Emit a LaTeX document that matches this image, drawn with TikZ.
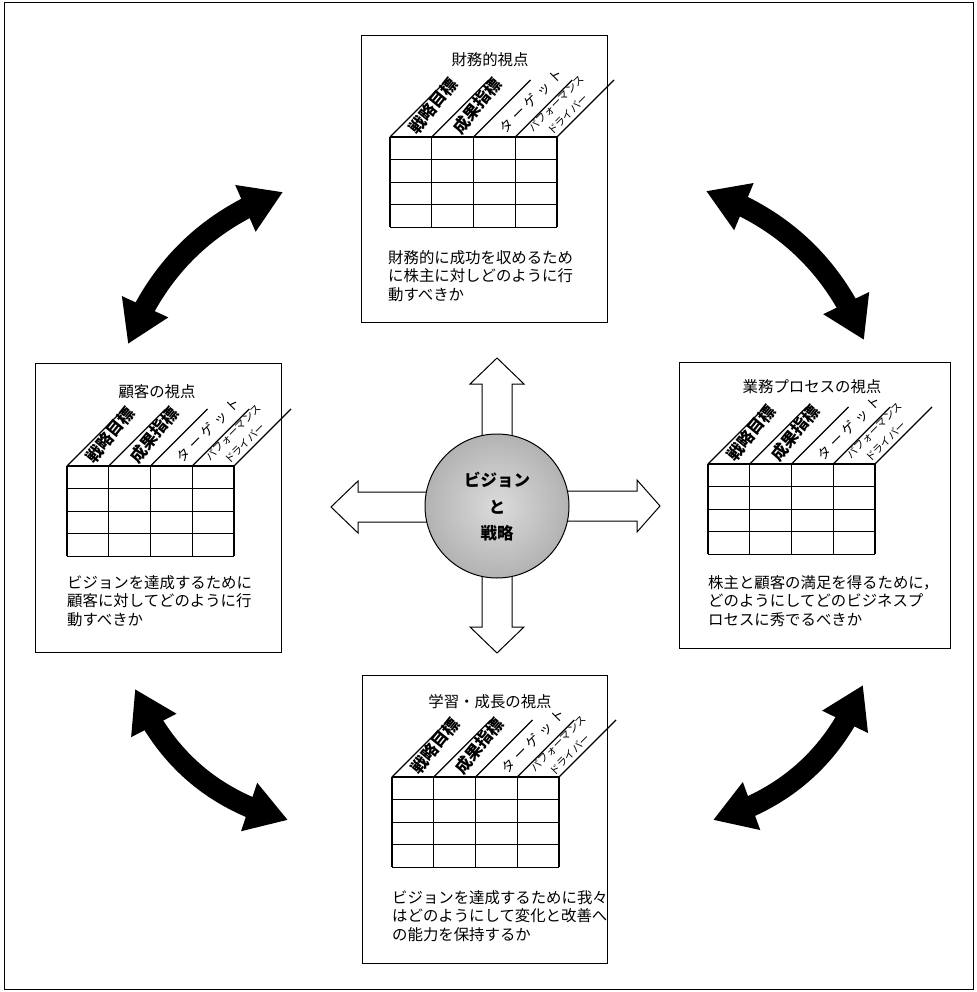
\documentclass[tikz,border=0pt]{standalone}
\usepackage{fontspec}
\setmainfont{Noto Sans CJK JP}
\usetikzlibrary{arrows.meta,bending}

\tikzset{
  frame/.style={draw, line width=1pt},
  panel/.style={draw, line width=1.1pt},
  tbl/.style={line width=1.1pt},
  hdrbold/.style={font=\fontsize{16.5}{18}\selectfont\bfseries, inner sep=0pt, rotate=51},
  hdrtarget/.style={font=\fontsize{13.5}{15}\selectfont, inner sep=0pt, rotate=45},
  hdrsmall/.style={font=\fontsize{10.5}{16}\selectfont, inner sep=0pt, rotate=45, align=center},
  ptitle/.style={font=\fontsize{15.4}{18}\selectfont, inner sep=0pt},
  body/.style={font=\fontsize{15.4}{18.5}\selectfont, inner sep=0pt, anchor=north west, align=left},
  blockarrow/.style={draw, fill=white, line width=1pt, line join=miter},
  bigarrow/.style={line width=21pt, {Triangle[width=48pt,length=41pt,flex]}-{Triangle[width=48pt,length=41pt,flex]}},
  core/.style={circle, draw, line width=1pt, minimum size=144pt, inner color=gray!28, outer color=gray!60},
  coretext/.style={font=\fontsize{16.5}{20}\selectfont\bfseries, inner sep=0pt}
}

\newcommand\kpitable[3]{%
  \begin{scope}[shift={(#2,#3)}]
    \foreach \i in {0,...,4}{
      \draw[tbl] (\i*41.75,0) -- (\i*41.75,90.4);
      \draw[tbl] (\i*41.75,0) -- ++(57,-57);
    }
    \foreach \j in {0,...,4} \draw[tbl] (0,\j*22.6) -- (167,\j*22.6);
    \node[hdrbold] (#1h1) at (43,-31) {戦略目標};
    \node[hdrbold] (#1h2) at (87,-31) {成果指標};
    \node[hdrtarget] (#1h3) at (141,-36) {タ\kern4pt ー\kern4pt ゲ\kern4pt ッ\kern4pt ト};
    \node[hdrsmall] (#1h4) at (172,-28) {パフォーマンス\\ドライバー};
  \end{scope}}

\begin{document}
\begin{tikzpicture}[x=1pt,y=-1pt]
\useasboundingbox (0,0) rectangle (976,992);
\draw[frame] (4,3) rectangle (973,989);

% panels
\node[panel, minimum width=246pt, minimum height=287pt, anchor=north west] (fin) at (361,35) {};
\node[panel, minimum width=246pt, minimum height=289pt, anchor=north west] (cus) at (35,363) {};
\node[panel, minimum width=271pt, minimum height=286pt, anchor=north west] (pro) at (679,362) {};
\node[panel, minimum width=245pt, minimum height=288pt, anchor=north west] (lea) at (362,675) {};

% titles
\node[ptitle] (fint) at (490,60) {財務的視点};
\node[ptitle] (cust) at (157,392) {顧客の視点};
\node[ptitle] (prot) at (812,387) {業務プロセスの視点};
\node[ptitle] (leat) at (490,702) {学習・成長の視点};

% tables
\kpitable{fin}{390}{137}
\kpitable{cus}{67}{466}
\kpitable{pro}{708}{464}
\kpitable{lea}{392}{777}

% body texts
\node[body] (finb) at (388,250) {財務的に成功を収めるため\\に株主に対しどのように行\\動すべきか};
\node[body] (cusb) at (67,575) {ビジョンを達成するために\\顧客に対してどのように行\\動すべきか};
\node[body] (prob) at (708,575) {株主と顧客の満足を得るために，\\どのようにしてどのビジネスプ\\ロセスに秀でるべきか};
\node[body] (leab) at (392,890) {ビジョンを達成するために我々\\はどのようにして変化と改善へ\\の能力を保持するか};

% block arrows from the centre
\draw[blockarrow] (482,506) -- (482,384) -- (470,384) -- (497,358) -- (524,384) -- (512,384) -- (512,506) -- cycle;
\draw[blockarrow] (482,506) -- (482,627) -- (470,627) -- (497,653) -- (524,627) -- (512,627) -- (512,506) -- cycle;
\draw[blockarrow] (497,492) -- (358,492) -- (358,481) -- (331,507) -- (358,533) -- (358,522) -- (497,522) -- cycle;
\draw[blockarrow] (497,491) -- (637,491) -- (637,480) -- (660,506) -- (637,532) -- (637,521) -- (497,521) -- cycle;

% centre circle
\node[core] (vis) at (497,506) {};
\node[coretext] (vis1) at (497,480) {ビジョン};
\node[coretext] (vis2) at (497,507) {と};
\node[coretext] (vis3) at (497,533) {戦略};

% curved double arrows
\coordinate (tla) at (128,344); \coordinate (tlb) at (283,192);
\coordinate (tra) at (706,191); \coordinate (trb) at (864,340);
\coordinate (bla) at (135,689); \coordinate (blb) at (288,820);
\coordinate (bra) at (713,820); \coordinate (brb) at (863,685);
\draw[bigarrow] (tla) .. controls (156.3,269.5) and (208,218.9) .. (tlb);
\draw[bigarrow] (tra) .. controls (781.6,216.4) and (834.3,266.1) .. (trb);
\draw[bigarrow] (bla) .. controls (164.3,758.1) and (215.3,801.7) .. (blb);
\draw[bigarrow] (bra) .. controls (785.3,799.8) and (835.3,754.8) .. (brb);
\end{tikzpicture}
\end{document}
